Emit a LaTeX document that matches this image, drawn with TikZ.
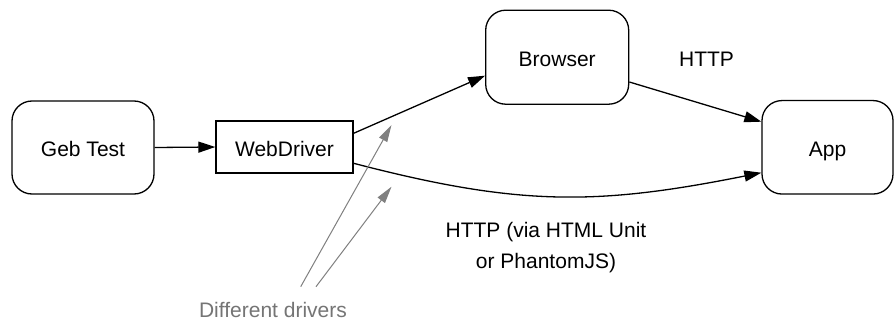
\documentclass[tikz,border=0pt]{standalone}
\usepackage{fontspec}
\setmainfont{Liberation Sans}
\usetikzlibrary{arrows.meta}
\begin{document}
\begin{tikzpicture}[x=1pt,y=1pt,
  every node/.style={font=\fontsize{21}{31}\selectfont},
  rbox/.style={draw=black, line width=1.3pt, rounded corners=20pt, inner sep=0pt, text height=18pt, text depth=0pt},
  sbox/.style={draw=black, line width=1.3pt, inner sep=0pt, text height=18pt, text depth=0pt},
  conn/.style={draw=black, line width=1.3pt, -{Triangle[length=17pt,width=11pt]}},
  note/.style={draw=black!50, line width=1pt, -{Triangle[length=17pt,width=9pt]}},
  lbl/.style={inner sep=0pt, text=black}
]
\fill[white] (0,0) rectangle (894,-321);
\useasboundingbox (0,0) rectangle (894,-321);

\node[rbox, minimum width=142pt, minimum height=93pt] (gt) at (83,-147.5) {Geb Test};
\node[sbox, minimum width=137pt, minimum height=52pt] (wd) at (284.5,-147) {WebDriver};
\node[rbox, minimum width=143pt, minimum height=94pt] (br) at (557.2,-57.2) {Browser};
\node[rbox, minimum width=131pt, minimum height=93.5pt] (app) at (827.5,-147.3) {App};

\node[lbl, anchor=base] (http) at (706.5,-66.5) {HTTP};
\node[lbl, align=center] (http2) at (546,-248) {HTTP (via HTML Unit\\or PhantomJS)};
\node[lbl, anchor=base, text=black!54] (dd) at (273,-317.5) {Different drivers};

\draw[conn] (gt.east) -- (wd.west);
\draw[conn] ([yshift=13.7pt]wd.east) -- ([yshift=-18.5pt]br.west);
\draw[conn] ([yshift=-24.8pt]br.east) -- ([yshift=25.6pt]app.west);
\draw[conn] ([yshift=-16.3pt]wd.east) .. controls +(165,-43) and +(-165,-33) .. ([yshift=-25.4pt]app.west);

\coordinate (s1) at (300.7,-286.7);
\coordinate (s2) at (316,-286.7);
\coordinate (t1) at (391.5,-125);
\coordinate (t2) at (391.5,-186.7);
\draw[note] (s1) -- (t1);
\draw[note] (s2) -- (t2);
\end{tikzpicture}
\end{document}
